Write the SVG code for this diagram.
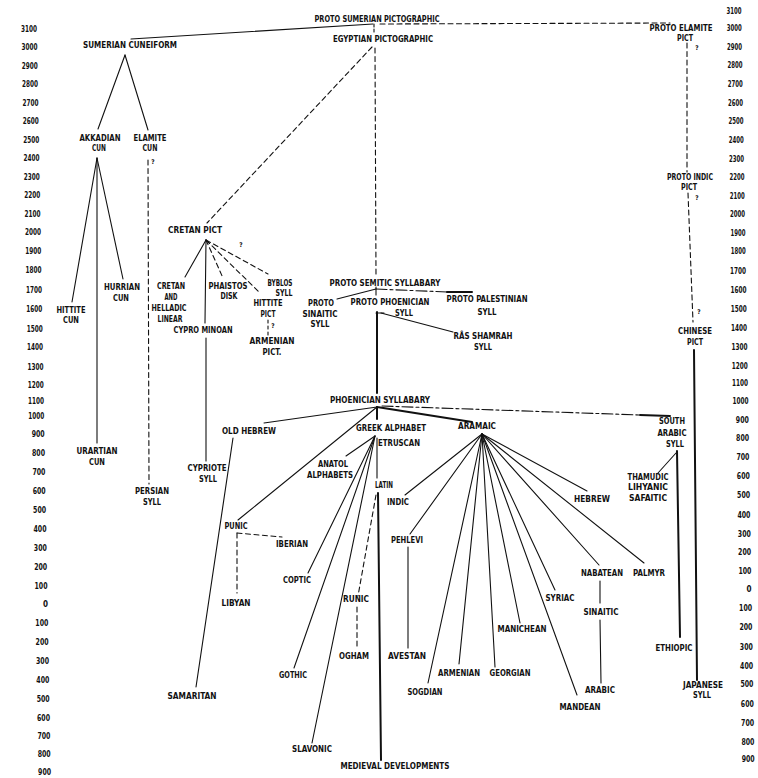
<svg xmlns="http://www.w3.org/2000/svg" width="758" height="778" viewBox="0 0 758 778">
<style>
text{font-family:"DejaVu Sans Condensed","Liberation Sans Narrow","Liberation Sans",sans-serif;font-weight:bold;fill:#111}
.t{font-size:8.5px;text-anchor:middle}
.ax{font-size:8px;text-anchor:end}
.q{font-size:6.5px;text-anchor:middle}
.s{stroke:#111;stroke-width:1.1;fill:none;stroke-linecap:round}
.d{stroke-dasharray:5 3.5}
.dd{stroke-dasharray:11 3 3 3}
.k{stroke-width:2}
</style>
<rect width="758" height="778" fill="#fff"/>

<g id="axis-left" class="ax">
<text x="37" y="32" textLength="16" lengthAdjust="spacingAndGlyphs">3100</text>
<text x="37.4" y="50" textLength="16" lengthAdjust="spacingAndGlyphs">3000</text>
<text x="37.7" y="69" textLength="16" lengthAdjust="spacingAndGlyphs">2900</text>
<text x="38.1" y="87" textLength="16" lengthAdjust="spacingAndGlyphs">2800</text>
<text x="38.5" y="106" textLength="16" lengthAdjust="spacingAndGlyphs">2700</text>
<text x="38.8" y="124" textLength="16" lengthAdjust="spacingAndGlyphs">2600</text>
<text x="39.2" y="143" textLength="16" lengthAdjust="spacingAndGlyphs">2500</text>
<text x="39.5" y="161" textLength="16" lengthAdjust="spacingAndGlyphs">2400</text>
<text x="39.8" y="180" textLength="16" lengthAdjust="spacingAndGlyphs">2300</text>
<text x="40.2" y="198" textLength="16" lengthAdjust="spacingAndGlyphs">2200</text>
<text x="40.5" y="217" textLength="16" lengthAdjust="spacingAndGlyphs">2100</text>
<text x="40.9" y="235" textLength="16" lengthAdjust="spacingAndGlyphs">2000</text>
<text x="41.2" y="254" textLength="16" lengthAdjust="spacingAndGlyphs">1900</text>
<text x="41.6" y="273" textLength="16" lengthAdjust="spacingAndGlyphs">1800</text>
<text x="42" y="293" textLength="16" lengthAdjust="spacingAndGlyphs">1700</text>
<text x="42.3" y="312" textLength="16" lengthAdjust="spacingAndGlyphs">1600</text>
<text x="42.7" y="332" textLength="16" lengthAdjust="spacingAndGlyphs">1500</text>
<text x="43" y="350" textLength="16" lengthAdjust="spacingAndGlyphs">1400</text>
<text x="43.4" y="370" textLength="16" lengthAdjust="spacingAndGlyphs">1300</text>
<text x="43.8" y="388" textLength="16" lengthAdjust="spacingAndGlyphs">1200</text>
<text x="44" y="404" textLength="16" lengthAdjust="spacingAndGlyphs">1100</text>
<text x="44.3" y="419" textLength="16" lengthAdjust="spacingAndGlyphs">1000</text>
<text x="44.7" y="437" textLength="13" lengthAdjust="spacingAndGlyphs">900</text>
<text x="45" y="456" textLength="13" lengthAdjust="spacingAndGlyphs">800</text>
<text x="45.4" y="475" textLength="13" lengthAdjust="spacingAndGlyphs">700</text>
<text x="45.7" y="494" textLength="13" lengthAdjust="spacingAndGlyphs">600</text>
<text x="46.1" y="513" textLength="13" lengthAdjust="spacingAndGlyphs">500</text>
<text x="46.5" y="532" textLength="13" lengthAdjust="spacingAndGlyphs">400</text>
<text x="46.8" y="551" textLength="13" lengthAdjust="spacingAndGlyphs">300</text>
<text x="47.2" y="570" textLength="13" lengthAdjust="spacingAndGlyphs">200</text>
<text x="47.5" y="589" textLength="13" lengthAdjust="spacingAndGlyphs">100</text>
<text x="47.9" y="607">0</text>
<text x="48.3" y="626" textLength="13" lengthAdjust="spacingAndGlyphs">100</text>
<text x="48.6" y="645" textLength="13" lengthAdjust="spacingAndGlyphs">200</text>
<text x="49" y="664" textLength="13" lengthAdjust="spacingAndGlyphs">300</text>
<text x="49.3" y="683" textLength="13" lengthAdjust="spacingAndGlyphs">400</text>
<text x="49.7" y="702" textLength="13" lengthAdjust="spacingAndGlyphs">500</text>
<text x="50" y="721" textLength="13" lengthAdjust="spacingAndGlyphs">600</text>
<text x="50.4" y="739" textLength="13" lengthAdjust="spacingAndGlyphs">700</text>
<text x="50.7" y="757" textLength="13" lengthAdjust="spacingAndGlyphs">800</text>
<text x="51.1" y="775" textLength="13" lengthAdjust="spacingAndGlyphs">900</text>
</g>

<g id="axis-right" class="ax">
<text x="741.5" y="14" textLength="15" lengthAdjust="spacingAndGlyphs">3100</text>
<text x="741.8" y="31" textLength="15" lengthAdjust="spacingAndGlyphs">3000</text>
<text x="742.1" y="50" textLength="15" lengthAdjust="spacingAndGlyphs">2900</text>
<text x="742.4" y="68" textLength="15" lengthAdjust="spacingAndGlyphs">2800</text>
<text x="742.8" y="87" textLength="15" lengthAdjust="spacingAndGlyphs">2700</text>
<text x="743.1" y="106" textLength="15" lengthAdjust="spacingAndGlyphs">2600</text>
<text x="743.4" y="124" textLength="15" lengthAdjust="spacingAndGlyphs">2500</text>
<text x="743.8" y="143" textLength="15" lengthAdjust="spacingAndGlyphs">2400</text>
<text x="744.1" y="162" textLength="15" lengthAdjust="spacingAndGlyphs">2300</text>
<text x="744.4" y="180" textLength="15" lengthAdjust="spacingAndGlyphs">2200</text>
<text x="744.8" y="199" textLength="15" lengthAdjust="spacingAndGlyphs">2100</text>
<text x="745.1" y="217" textLength="15" lengthAdjust="spacingAndGlyphs">2000</text>
<text x="745.4" y="236" textLength="15" lengthAdjust="spacingAndGlyphs">1900</text>
<text x="745.8" y="254" textLength="15" lengthAdjust="spacingAndGlyphs">1800</text>
<text x="746.1" y="274" textLength="16" lengthAdjust="spacingAndGlyphs">1700</text>
<text x="746.4" y="293" textLength="16" lengthAdjust="spacingAndGlyphs">1600</text>
<text x="746.8" y="312" textLength="16" lengthAdjust="spacingAndGlyphs">1500</text>
<text x="747.1" y="331" textLength="16" lengthAdjust="spacingAndGlyphs">1400</text>
<text x="747.4" y="350" textLength="16" lengthAdjust="spacingAndGlyphs">1300</text>
<text x="747.8" y="369" textLength="16" lengthAdjust="spacingAndGlyphs">1200</text>
<text x="748.1" y="386" textLength="16" lengthAdjust="spacingAndGlyphs">1100</text>
<text x="748.4" y="404" textLength="16" lengthAdjust="spacingAndGlyphs">1000</text>
<text x="748.8" y="423" textLength="13" lengthAdjust="spacingAndGlyphs">900</text>
<text x="749.1" y="441" textLength="13" lengthAdjust="spacingAndGlyphs">800</text>
<text x="749.4" y="460" textLength="13" lengthAdjust="spacingAndGlyphs">700</text>
<text x="749.8" y="479" textLength="13" lengthAdjust="spacingAndGlyphs">600</text>
<text x="750.1" y="498" textLength="13" lengthAdjust="spacingAndGlyphs">500</text>
<text x="750.4" y="518" textLength="13" lengthAdjust="spacingAndGlyphs">400</text>
<text x="750.8" y="537" textLength="13" lengthAdjust="spacingAndGlyphs">300</text>
<text x="751.1" y="555" textLength="13" lengthAdjust="spacingAndGlyphs">200</text>
<text x="751.4" y="574" textLength="13" lengthAdjust="spacingAndGlyphs">100</text>
<text x="751.5" y="592">0</text>
<text x="752.1" y="611" textLength="13" lengthAdjust="spacingAndGlyphs">100</text>
<text x="752.4" y="630" textLength="13" lengthAdjust="spacingAndGlyphs">200</text>
<text x="752.8" y="650" textLength="13" lengthAdjust="spacingAndGlyphs">300</text>
<text x="753.1" y="669" textLength="13" lengthAdjust="spacingAndGlyphs">400</text>
<text x="753.4" y="687" textLength="13" lengthAdjust="spacingAndGlyphs">500</text>
<text x="753.8" y="707" textLength="13" lengthAdjust="spacingAndGlyphs">600</text>
<text x="754.1" y="726" textLength="13" lengthAdjust="spacingAndGlyphs">700</text>
<text x="754.4" y="745" textLength="13" lengthAdjust="spacingAndGlyphs">800</text>
<text x="754.7" y="762" textLength="13" lengthAdjust="spacingAndGlyphs">900</text>
</g>

<g id="connectors">
<line class="s" x1="131" y1="39" x2="373" y2="24"/>
<line class="s d" x1="380" y1="24" x2="670" y2="23"/>
<line class="s" x1="374" y1="24" x2="374" y2="32" stroke-dasharray="3 2"/>
<line class="s" x1="125" y1="55" x2="98" y2="129"/>
<line class="s" x1="125" y1="55" x2="148" y2="130"/>
<line class="s" x1="97" y1="158" x2="72" y2="302"/>
<line class="s" x1="97" y1="158" x2="97" y2="443"/>
<line class="s" x1="97" y1="158" x2="123" y2="279"/>
<line class="s d" x1="148" y1="160" x2="149" y2="484"/>
<line class="s d" x1="372" y1="47" x2="207" y2="223"/>
<line class="s d" x1="375" y1="48" x2="376" y2="276"/>
<line class="s" x1="206" y1="240" x2="185" y2="277"/>
<line class="s" x1="206" y1="240" x2="205" y2="323"/>
<line class="s d" x1="206" y1="240" x2="223" y2="278"/>
<line class="s d" x1="206" y1="240" x2="260" y2="293"/>
<line class="s d" x1="206" y1="240" x2="268" y2="274"/>
<line class="s" x1="268" y1="320" x2="268" y2="335" stroke-dasharray="3 3"/>
<line class="s" x1="206" y1="338" x2="206" y2="461"/>
<line class="s" x1="376" y1="287" x2="376" y2="295"/>
<line class="s" x1="376" y1="289" x2="337" y2="299"/>
<line class="s dd" x1="376" y1="289" x2="447" y2="292"/>
<line class="s k" x1="447" y1="292" x2="472" y2="292"/>
<line class="s" x1="376" y1="313" x2="384" y2="313"/>
<line class="s k" x1="377" y1="312" x2="377" y2="393"/>
<line class="s" x1="381" y1="313" x2="453" y2="332"/>
<line class="s" x1="377" y1="407" x2="264" y2="423"/>
<line class="s" x1="377" y1="407" x2="238" y2="520"/>
<line class="s k" x1="377" y1="407" x2="377" y2="419"/>
<line class="s k" x1="377" y1="407" x2="472" y2="422"/>
<line class="s dd" x1="382" y1="406" x2="640" y2="415"/>
<line class="s k" x1="640" y1="415" x2="670" y2="416"/>
<line class="s" x1="375" y1="436" x2="346" y2="456"/>
<line class="s" x1="375" y1="436" x2="308" y2="573"/>
<line class="s" x1="375" y1="436" x2="294" y2="668"/>
<line class="s" x1="375" y1="436" x2="312" y2="743"/>
<line class="s" x1="377" y1="438" x2="377" y2="478"/>
<line class="s k" x1="378" y1="493" x2="381" y2="760"/>
<line class="s d" x1="376" y1="495" x2="358" y2="596"/>
<line class="s d" x1="357" y1="607" x2="357" y2="649"/>
<line class="s" x1="482" y1="434" x2="405" y2="495"/>
<line class="s" x1="482" y1="434" x2="410" y2="534"/>
<line class="s" x1="482" y1="434" x2="428" y2="683"/>
<line class="s" x1="482" y1="434" x2="459" y2="664"/>
<line class="s" x1="482" y1="434" x2="495" y2="667"/>
<line class="s" x1="482" y1="434" x2="520" y2="623"/>
<line class="s" x1="482" y1="434" x2="577" y2="695"/>
<line class="s" x1="482" y1="434" x2="555" y2="590"/>
<line class="s" x1="482" y1="434" x2="599" y2="565"/>
<line class="s" x1="482" y1="434" x2="644" y2="563"/>
<line class="s" x1="482" y1="434" x2="587" y2="491"/>
<line class="s" x1="408" y1="547" x2="408" y2="648"/>
<line class="s" x1="600" y1="581" x2="600" y2="603"/>
<line class="s" x1="600" y1="620" x2="601" y2="683"/>
<line class="s k" x1="677" y1="451" x2="680" y2="637"/>
<line class="s" x1="676" y1="453" x2="658" y2="473"/>
<line class="s d" x1="687" y1="43" x2="687" y2="172"/>
<line class="s d" x1="688" y1="193" x2="693" y2="322"/>
<line class="s k" x1="694" y1="350" x2="697" y2="680"/>
<line class="s d" x1="237" y1="533" x2="237" y2="593"/>
<line class="s d" x1="237" y1="533" x2="282" y2="537"/>
<line class="s" x1="233" y1="438" x2="196" y2="687"/>
</g>

<g id="marks" class="q">
<text x="153" y="164">?</text>
<text x="697" y="50">?</text>
<text x="697" y="200">?</text>
<text x="699" y="314">?</text>
<text x="241" y="247">?</text>
<text x="273" y="328">?</text>
</g>

<g class="t">
<g id="proto-sumerian"><text x="377" y="22" textLength="125" lengthAdjust="spacingAndGlyphs">PROTO SUMERIAN PICTOGRAPHIC</text></g>
<g id="sumerian-cuneiform"><text x="130" y="48" textLength="94" lengthAdjust="spacingAndGlyphs">SUMERIAN CUNEIFORM</text></g>
<g id="egyptian"><text x="383" y="42" textLength="100" lengthAdjust="spacingAndGlyphs">EGYPTIAN PICTOGRAPHIC</text></g>
<g id="proto-elamite"><text x="681" y="31" textLength="63" lengthAdjust="spacingAndGlyphs">PROTO ELAMITE</text><text x="685" y="40.5" textLength="16" lengthAdjust="spacingAndGlyphs">PICT</text></g>
<g id="akkadian"><text x="100" y="141" textLength="41" lengthAdjust="spacingAndGlyphs">AKKADIAN</text><text x="99" y="151" textLength="14" lengthAdjust="spacingAndGlyphs">CUN</text></g>
<g id="elamite"><text x="150" y="141" textLength="33" lengthAdjust="spacingAndGlyphs">ELAMITE</text><text x="150" y="151" textLength="15" lengthAdjust="spacingAndGlyphs">CUN</text></g>
<g id="hittite-cun"><text x="71" y="313" textLength="29" lengthAdjust="spacingAndGlyphs">HITTITE</text><text x="71" y="323" textLength="16" lengthAdjust="spacingAndGlyphs">CUN</text></g>
<g id="hurrian"><text x="122" y="290" textLength="36" lengthAdjust="spacingAndGlyphs">HURRIAN</text><text x="121" y="301" textLength="16" lengthAdjust="spacingAndGlyphs">CUN</text></g>
<g id="urartian"><text x="97" y="454" textLength="41" lengthAdjust="spacingAndGlyphs">URARTIAN</text><text x="97" y="465" textLength="16" lengthAdjust="spacingAndGlyphs">CUN</text></g>
<g id="persian"><text x="152" y="494" textLength="34" lengthAdjust="spacingAndGlyphs">PERSIAN</text><text x="152" y="505" textLength="18" lengthAdjust="spacingAndGlyphs">SYLL</text></g>
<g id="cretan-pict"><text x="195" y="233" textLength="54" lengthAdjust="spacingAndGlyphs">CRETAN PICT</text></g>
<g id="cretan-linear"><text x="171" y="289" textLength="28" lengthAdjust="spacingAndGlyphs">CRETAN</text><text x="171" y="300" textLength="13" lengthAdjust="spacingAndGlyphs">AND</text><text x="169" y="311" textLength="35" lengthAdjust="spacingAndGlyphs">HELLADIC</text><text x="170" y="322" textLength="25" lengthAdjust="spacingAndGlyphs">LINEAR</text></g>
<g id="phaistos"><text x="228" y="289" textLength="39" lengthAdjust="spacingAndGlyphs">PHAISTOS</text><text x="229" y="299" textLength="17" lengthAdjust="spacingAndGlyphs">DISK</text></g>
<g id="byblos"><text x="280" y="286" textLength="25" lengthAdjust="spacingAndGlyphs">BYBLOS</text><text x="284" y="296" textLength="17" lengthAdjust="spacingAndGlyphs">SYLL</text></g>
<g id="hittite-pict"><text x="268" y="306" textLength="29" lengthAdjust="spacingAndGlyphs">HITTITE</text><text x="268" y="317" textLength="15" lengthAdjust="spacingAndGlyphs">PICT</text></g>
<g id="armenian-pict"><text x="272" y="344" textLength="45" lengthAdjust="spacingAndGlyphs">ARMENIAN</text><text x="272" y="355" textLength="19" lengthAdjust="spacingAndGlyphs">PICT.</text></g>
<g id="cypro-minoan"><text x="203" y="333" textLength="59" lengthAdjust="spacingAndGlyphs">CYPRO MINOAN</text></g>
<g id="cypriote"><text x="207" y="471" textLength="39" lengthAdjust="spacingAndGlyphs">CYPRIOTE</text><text x="208" y="482" textLength="18" lengthAdjust="spacingAndGlyphs">SYLL</text></g>
<g id="proto-semitic"><text x="385" y="286" textLength="111" lengthAdjust="spacingAndGlyphs">PROTO SEMITIC SYLLABARY</text></g>
<g id="proto-sinaitic"><text x="321" y="306" textLength="26" lengthAdjust="spacingAndGlyphs">PROTO</text><text x="320" y="317" textLength="35" lengthAdjust="spacingAndGlyphs">SINAITIC</text><text x="320" y="327" textLength="19" lengthAdjust="spacingAndGlyphs">SYLL</text></g>
<g id="proto-phoenician"><text x="390" y="305" textLength="79" lengthAdjust="spacingAndGlyphs">PROTO PHOENICIAN</text><text x="404" y="316" textLength="18" lengthAdjust="spacingAndGlyphs">SYLL</text></g>
<g id="proto-palestinian"><text x="487" y="302" textLength="81" lengthAdjust="spacingAndGlyphs">PROTO PALESTINIAN</text><text x="487" y="315" textLength="19" lengthAdjust="spacingAndGlyphs">SYLL</text></g>
<g id="ras-shamrah"><text x="483" y="339" textLength="59" lengthAdjust="spacingAndGlyphs">RÂS SHAMRAH</text><text x="483" y="350" textLength="18" lengthAdjust="spacingAndGlyphs">SYLL</text></g>
<g id="phoenician"><text x="380" y="403" textLength="100" lengthAdjust="spacingAndGlyphs">PHOENICIAN SYLLABARY</text></g>
<g id="old-hebrew"><text x="249" y="434" textLength="54" lengthAdjust="spacingAndGlyphs">OLD HEBREW</text></g>
<g id="greek"><text x="391" y="431" textLength="70" lengthAdjust="spacingAndGlyphs">GREEK ALPHABET</text></g>
<g id="aramaic"><text x="477" y="429" textLength="38" lengthAdjust="spacingAndGlyphs">ARAMAIC</text></g>
<g id="south-arabic"><text x="672" y="424" textLength="26" lengthAdjust="spacingAndGlyphs">SOUTH</text><text x="672" y="436" textLength="29" lengthAdjust="spacingAndGlyphs">ARABIC</text><text x="675" y="447" textLength="18" lengthAdjust="spacingAndGlyphs">SYLL</text></g>
<g id="etruscan"><text x="399" y="446" textLength="42" lengthAdjust="spacingAndGlyphs">ETRUSCAN</text></g>
<g id="anatol"><text x="333" y="467" textLength="30" lengthAdjust="spacingAndGlyphs">ANATOL</text><text x="330" y="478" textLength="46" lengthAdjust="spacingAndGlyphs">ALPHABETS</text></g>
<g id="latin"><text x="384" y="488" textLength="18" lengthAdjust="spacingAndGlyphs">LATIN</text></g>
<g id="indic"><text x="398" y="505" textLength="22" lengthAdjust="spacingAndGlyphs">INDIC</text></g>
<g id="hebrew"><text x="592" y="502" textLength="36" lengthAdjust="spacingAndGlyphs">HEBREW</text></g>
<g id="thamudic"><text x="648" y="480" textLength="41" lengthAdjust="spacingAndGlyphs">THAMUDIC</text><text x="648" y="490" textLength="40" lengthAdjust="spacingAndGlyphs">LIHYANIC</text><text x="648" y="501" textLength="38" lengthAdjust="spacingAndGlyphs">SAFAITIC</text></g>
<g id="punic"><text x="236" y="529" textLength="23" lengthAdjust="spacingAndGlyphs">PUNIC</text></g>
<g id="iberian"><text x="292" y="547" textLength="32" lengthAdjust="spacingAndGlyphs">IBERIAN</text></g>
<g id="pehlevi"><text x="407" y="543" textLength="32" lengthAdjust="spacingAndGlyphs">PEHLEVI</text></g>
<g id="coptic"><text x="297" y="583" textLength="28" lengthAdjust="spacingAndGlyphs">COPTIC</text></g>
<g id="libyan"><text x="236" y="606" textLength="29" lengthAdjust="spacingAndGlyphs">LIBYAN</text></g>
<g id="runic"><text x="356" y="602" textLength="26" lengthAdjust="spacingAndGlyphs">RUNIC</text></g>
<g id="nabatean"><text x="602" y="576" textLength="42" lengthAdjust="spacingAndGlyphs">NABATEAN</text></g>
<g id="palmyr"><text x="649" y="576" textLength="32" lengthAdjust="spacingAndGlyphs">PALMYR</text></g>
<g id="syriac"><text x="560" y="601" textLength="29" lengthAdjust="spacingAndGlyphs">SYRIAC</text></g>
<g id="sinaitic"><text x="601" y="615" textLength="35" lengthAdjust="spacingAndGlyphs">SINAITIC</text></g>
<g id="manichean"><text x="522" y="632" textLength="49" lengthAdjust="spacingAndGlyphs">MANICHEAN</text></g>
<g id="ethiopic"><text x="674" y="651" textLength="37" lengthAdjust="spacingAndGlyphs">ETHIOPIC</text></g>
<g id="ogham"><text x="354" y="659" textLength="30" lengthAdjust="spacingAndGlyphs">OGHAM</text></g>
<g id="avestan"><text x="407" y="659" textLength="38" lengthAdjust="spacingAndGlyphs">AVESTAN</text></g>
<g id="gothic"><text x="293" y="678" textLength="28" lengthAdjust="spacingAndGlyphs">GOTHIC</text></g>
<g id="armenian"><text x="459" y="676" textLength="42" lengthAdjust="spacingAndGlyphs">ARMENIAN</text></g>
<g id="georgian"><text x="510" y="676" textLength="41" lengthAdjust="spacingAndGlyphs">GEORGIAN</text></g>
<g id="japanese"><text x="703" y="688" textLength="40" lengthAdjust="spacingAndGlyphs">JAPANESE</text><text x="702" y="698" textLength="18" lengthAdjust="spacingAndGlyphs">SYLL</text></g>
<g id="arabic"><text x="600" y="693" textLength="30" lengthAdjust="spacingAndGlyphs">ARABIC</text></g>
<g id="sogdian"><text x="425" y="695" textLength="35" lengthAdjust="spacingAndGlyphs">SOGDIAN</text></g>
<g id="samaritan"><text x="192" y="699" textLength="49" lengthAdjust="spacingAndGlyphs">SAMARITAN</text></g>
<g id="mandean"><text x="580" y="710" textLength="41" lengthAdjust="spacingAndGlyphs">MANDEAN</text></g>
<g id="slavonic"><text x="312" y="752" textLength="40" lengthAdjust="spacingAndGlyphs">SLAVONIC</text></g>
<g id="medieval"><text x="395" y="769" textLength="109" lengthAdjust="spacingAndGlyphs">MEDIEVAL DEVELOPMENTS</text></g>
<g id="proto-indic"><text x="690" y="180" textLength="46" lengthAdjust="spacingAndGlyphs">PROTO INDIC</text><text x="689" y="189.5" textLength="16" lengthAdjust="spacingAndGlyphs">PICT</text></g>
<g id="chinese"><text x="695" y="334" textLength="34" lengthAdjust="spacingAndGlyphs">CHINESE</text><text x="695" y="345" textLength="16" lengthAdjust="spacingAndGlyphs">PICT</text></g>
</g>
</svg>
